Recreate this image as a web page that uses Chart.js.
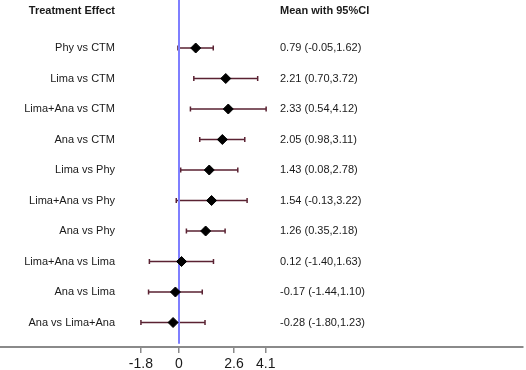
<!DOCTYPE html>
<html>
<head>
<meta charset="utf-8">
<script src="https://cdn.jsdelivr.net/npm/chart.js@4/dist/chart.umd.min.js"></script>
<style>
  body { margin: 0; background: #fff; }
  canvas { display: block; }
</style>
</head>
<body>
<canvas id="forest" width="526" height="370"></canvas>
<script>
const comparisons = ['Phy vs CTM', 'Lima vs CTM', 'Lima+Ana vs CTM', 'Ana vs CTM', 'Lima vs Phy',
  'Lima+Ana vs Phy', 'Ana vs Phy', 'Lima+Ana vs Lima', 'Ana vs Lima', 'Ana vs Lima+Ana'];
const means = [0.79, 2.21, 2.33, 2.05, 1.43, 1.54, 1.26, 0.12, -0.17, -0.28];
const lower = [-0.05, 0.70, 0.54, 0.98, 0.08, -0.13, 0.35, -1.40, -1.44, -1.80];
const upper = [1.62, 3.72, 4.12, 3.11, 2.78, 3.22, 2.18, 1.63, 1.10, 1.23];
const tickValues = [-1.8, 0, 2.6, 4.1];
const headerLeft = 'Treatment Effect';
const headerRight = 'Mean with 95%CI';

function fmt(v) {
  return v.toFixed(2);
}

let points = [];
for (var i = 0; i < means.length; i++) {
  points.push({x: means[i], y: i});
}

// whiskers, labels and the CI text
const forestPlugin = {
  id: 'forest',
  beforeDatasetsDraw(chart) {
    const c = chart.ctx;
    const xs = chart.scales.x, ys = chart.scales.y;
    c.save();
    c.strokeStyle = '#5a2232';
    c.lineWidth = 1.5;
    for (var i = 0; i < means.length; i++) {
      const y = ys.getPixelForValue(i);
      const x1 = xs.getPixelForValue(lower[i]);
      const x2 = xs.getPixelForValue(upper[i]);
      c.beginPath();
      c.moveTo(x1, y); c.lineTo(x2, y);
      c.moveTo(x1, y - 2.5); c.lineTo(x1, y + 2.5);
      c.moveTo(x2, y - 2.5); c.lineTo(x2, y + 2.5);
      c.stroke();
    }
    c.restore();
  },
  afterDraw(chart) {
    const c = chart.ctx;
    const ys = chart.scales.y;
    c.save();
    c.fillStyle = '#1a1a1a';
    c.textBaseline = 'middle';
    const hy = ys.getPixelForValue(-1.23);
    c.font = 'bold 11px "Liberation Sans", Arial, sans-serif';
    c.textAlign = 'right';
    c.fillText(headerLeft, 115, hy);
    c.textAlign = 'left';
    c.fillText(headerRight, 280, hy);
    c.font = '11px "Liberation Sans", Arial, sans-serif';
    for (var i = 0; i < comparisons.length; i++) {
      const y = ys.getPixelForValue(i);
      c.textAlign = 'right';
      c.fillText(comparisons[i], 115, y);
      c.textAlign = 'left';
      c.fillText(fmt(means[i]) + ' (' + fmt(lower[i]) + ',' + fmt(upper[i]) + ')', 280, y);
    }
    c.restore();
  }
};

const config = {
  type: 'scatter',
  data: {
    datasets: [{
      type: 'line',
      data: [{x: 0, y: -1.6}, {x: 0, y: 9.7}],
      borderColor: '#7f7fff',
      borderWidth: 2,
      pointRadius: 0,
      order: 2
    }, {
      data: points,
      pointStyle: 'rectRot',
      pointRadius: 5,
      backgroundColor: '#000',
      borderColor: '#000',
      order: 1
    }]
  },
  options: {
    responsive: false,
    animation: false,
    layout: { autoPadding: false, padding: { left: 0, right: 3, top: 0, bottom: 0 } },
    scales: {
      x: {
        type: 'linear',
        min: -179 / 21.15,
        max: (523 - 179) / 21.15,
        afterBuildTicks: (scale) => {
          scale.ticks = tickValues.map(v => ({value: v}));
        },
        afterFit: (scale) => { scale.height = 23; },
        ticks: {
          color: '#1a1a1a',
          font: { family: '"Liberation Sans", Arial, sans-serif', size: 14 },
          padding: 3,
          maxRotation: 0,
          autoSkip: false,
          callback: (v) => String(v)
        },
        grid: {
          drawOnChartArea: false,
          drawTicks: true,
          tickLength: 6,
          color: '#8a8a8a',
          lineWidth: 1.5
        },
        border: { display: true, color: '#8a8a8a', width: 2 }
      },
      y: {
        type: 'linear',
        reverse: true,
        min: -48 / 30.5,
        max: 9 + (347 - 322.5) / 30.5,
        display: false
      }
    },
    plugins: {
      legend: { display: false },
      tooltip: { enabled: false }
    }
  },
  plugins: [forestPlugin]
};

const chart = new Chart(document.getElementById('forest'), config);
</script>
</body>
</html>
